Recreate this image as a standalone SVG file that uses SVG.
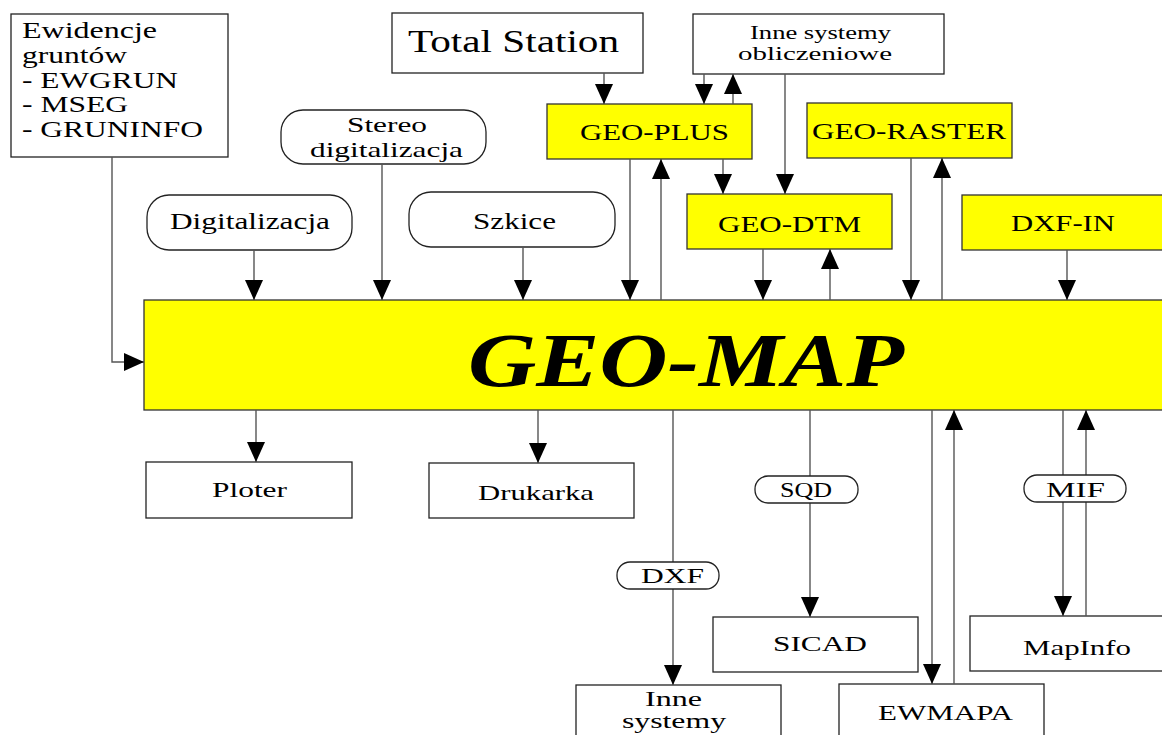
<svg xmlns="http://www.w3.org/2000/svg" width="1162" height="735" viewBox="0 0 1162 735">
<style>
.box{fill:#fff;stroke:#222;stroke-width:1.3}
.yel{fill:#ffff00;stroke:#333;stroke-width:1.3}
.t{font-family:"Liberation Serif","Times New Roman",serif;fill:#000}
.c{stroke:#555;stroke-width:1.4;fill:none}
</style>
<defs>
<marker id="ah" viewBox="0 0 20 18" refX="20" refY="9" markerWidth="20" markerHeight="18" markerUnits="userSpaceOnUse" orient="auto">
<path d="M0,0 L20,9 L0,18 Z" fill="#000"/>
</marker>
</defs>
<rect width="1162" height="735" fill="#fff"/>

<g id="ewidencje">
<rect class="box" x="11" y="14" width="217" height="143"/>
<text class="t" font-size="24" x="22" y="38" textLength="135" lengthAdjust="spacingAndGlyphs">Ewidencje</text>
<text class="t" font-size="24" x="22" y="63" textLength="105" lengthAdjust="spacingAndGlyphs">gruntów</text>
<text class="t" font-size="24" x="22" y="88" textLength="156" lengthAdjust="spacingAndGlyphs">- EWGRUN</text>
<text class="t" font-size="24" x="22" y="112" textLength="106" lengthAdjust="spacingAndGlyphs">- MSEG</text>
<text class="t" font-size="24" x="22" y="137" textLength="181" lengthAdjust="spacingAndGlyphs">- GRUNINFO</text>
</g>

<g id="total-station">
<rect class="box" x="392" y="13" width="251" height="60"/>
<text class="t" font-size="32" x="408" y="52" textLength="211" lengthAdjust="spacingAndGlyphs">Total Station</text>
</g>

<g id="inne-obl">
<rect class="box" x="693" y="14" width="251" height="60"/>
<text class="t" font-size="19" x="750" y="39" textLength="141" lengthAdjust="spacingAndGlyphs">Inne systemy</text>
<text class="t" font-size="19" x="738" y="60" textLength="154" lengthAdjust="spacingAndGlyphs">obliczeniowe</text>
</g>

<g id="stereo">
<rect class="box" x="281" y="110" width="205" height="54" rx="22" ry="22"/>
<text class="t" font-size="22" x="347" y="132" textLength="80" lengthAdjust="spacingAndGlyphs">Stereo</text>
<text class="t" font-size="22" x="310" y="157" textLength="153" lengthAdjust="spacingAndGlyphs">digitalizacja</text>
</g>

<g id="digitalizacja">
<rect class="box" x="147" y="195" width="205" height="55" rx="22" ry="22"/>
<text class="t" font-size="23" x="170" y="229" textLength="160" lengthAdjust="spacingAndGlyphs">Digitalizacja</text>
</g>

<g id="szkice">
<rect class="box" x="409" y="192" width="206" height="55" rx="22" ry="22"/>
<text class="t" font-size="23" x="473" y="229" textLength="83" lengthAdjust="spacingAndGlyphs">Szkice</text>
</g>

<g id="geo-plus">
<rect class="yel" x="547" y="104" width="205" height="55"/>
<text class="t" font-size="23" x="580" y="140" textLength="149" lengthAdjust="spacingAndGlyphs">GEO-PLUS</text>
</g>

<g id="geo-raster">
<rect class="yel" x="807" y="103" width="205" height="55"/>
<text class="t" font-size="23" x="812" y="139" textLength="194" lengthAdjust="spacingAndGlyphs">GEO-RASTER</text>
</g>

<g id="geo-dtm">
<rect class="yel" x="687" y="194" width="205" height="55"/>
<text class="t" font-size="23" x="718" y="232" textLength="143" lengthAdjust="spacingAndGlyphs">GEO-DTM</text>
</g>

<g id="dxf-in">
<rect class="yel" x="962" y="195" width="210" height="55"/>
<text class="t" font-size="23" x="1011" y="231" textLength="104" lengthAdjust="spacingAndGlyphs">DXF-IN</text>
</g>

<g id="geo-map">
<rect class="yel" x="144" y="300" width="1030" height="110"/>
<text class="t" font-size="76" font-weight="bold" font-style="italic" x="468" y="386" textLength="436" lengthAdjust="spacingAndGlyphs">GEO-MAP</text>
</g>

<g id="ploter">
<rect class="box" x="146" y="462" width="206" height="56"/>
<text class="t" font-size="22" x="212" y="497" textLength="75" lengthAdjust="spacingAndGlyphs">Ploter</text>
</g>

<g id="drukarka">
<rect class="box" x="429" y="463" width="205" height="55"/>
<text class="t" font-size="22" x="478" y="500" textLength="116" lengthAdjust="spacingAndGlyphs">Drukarka</text>
</g>

<g id="sicad">
<rect class="box" x="713" y="617" width="205" height="55"/>
<text class="t" font-size="22" x="773" y="651" textLength="94" lengthAdjust="spacingAndGlyphs">SICAD</text>
</g>

<g id="mapinfo">
<rect class="box" x="970" y="616" width="200" height="55"/>
<text class="t" font-size="22" x="1023" y="655" textLength="108" lengthAdjust="spacingAndGlyphs">MapInfo</text>
</g>

<g id="inne-systemy">
<rect class="box" x="576" y="685" width="205" height="60"/>
<text class="t" font-size="20" x="645" y="706" textLength="57" lengthAdjust="spacingAndGlyphs">Inne</text>
<text class="t" font-size="20" x="622" y="728" textLength="104" lengthAdjust="spacingAndGlyphs">systemy</text>
</g>

<g id="ewmapa">
<rect class="box" x="839" y="684" width="205" height="60"/>
<text class="t" font-size="22" x="878" y="720" textLength="135" lengthAdjust="spacingAndGlyphs">EWMAPA</text>
</g>

<g id="connectors">
<path class="c" d="M112,157 V362 H144" marker-end="url(#ah)"/>
<path class="c" d="M254,250 V300" marker-end="url(#ah)"/>
<path class="c" d="M382,164 V300" marker-end="url(#ah)"/>
<path class="c" d="M523,247 V300" marker-end="url(#ah)"/>
<path class="c" d="M604,73 V104" marker-end="url(#ah)"/>
<path class="c" d="M704,74 V104" marker-end="url(#ah)"/>
<path class="c" d="M733,104 V74" marker-end="url(#ah)"/>
<path class="c" d="M630,159 V300" marker-end="url(#ah)"/>
<path class="c" d="M661,300 V159" marker-end="url(#ah)"/>
<path class="c" d="M723,159 V194" marker-end="url(#ah)"/>
<path class="c" d="M785,74 V194" marker-end="url(#ah)"/>
<path class="c" d="M763,249 V300" marker-end="url(#ah)"/>
<path class="c" d="M830,300 V249" marker-end="url(#ah)"/>
<path class="c" d="M911,158 V300" marker-end="url(#ah)"/>
<path class="c" d="M942,300 V158" marker-end="url(#ah)"/>
<path class="c" d="M1067,250 V300" marker-end="url(#ah)"/>
<path class="c" d="M256,410 V462" marker-end="url(#ah)"/>
<path class="c" d="M538,410 V463" marker-end="url(#ah)"/>
<path class="c" d="M673,410 V685" marker-end="url(#ah)"/>
<path class="c" d="M810,410 V617" marker-end="url(#ah)"/>
<path class="c" d="M932,410 V684" marker-end="url(#ah)"/>
<path class="c" d="M954,684 V410" marker-end="url(#ah)"/>
<path class="c" d="M1063,410 V616" marker-end="url(#ah)"/>
<path class="c" d="M1086,616 V410" marker-end="url(#ah)"/>
<g id="label-sqd">
<rect class="box" x="755" y="476" width="103" height="27" rx="13" ry="13"/>
<text class="t" font-size="22" x="780" y="497" textLength="52" lengthAdjust="spacingAndGlyphs">SQD</text>
</g>
<g id="label-mif">
<rect class="box" x="1024" y="475" width="102" height="27" rx="13" ry="13"/>
<text class="t" font-size="22" x="1046" y="497" textLength="59" lengthAdjust="spacingAndGlyphs">MIF</text>
</g>
<g id="label-dxf">
<rect class="box" x="617" y="562" width="102" height="27" rx="13" ry="13"/>
<text class="t" font-size="22" x="641" y="583" textLength="63" lengthAdjust="spacingAndGlyphs">DXF</text>
</g>
</g>
</svg>
